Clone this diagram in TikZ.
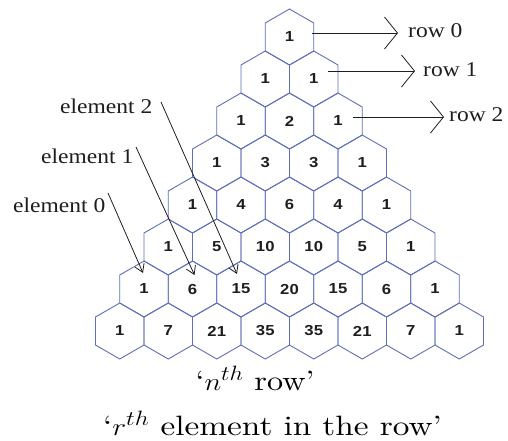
\documentclass[tikz,border=0pt]{standalone}
\usepackage{fontspec}
\usepackage{graphicx}
\usetikzlibrary{shapes.geometric,arrows.meta,calc}
\newfontfamily\labfont{Liberation Serif}
\newfontfamily\numfont{Liberation Sans}
\newfontfamily\cmten[Ligatures=TeX]{lmroman10-regular.otf}
\definecolor{hexblue}{RGB}{95,110,185}
\definecolor{inkcol}{RGB}{30,30,30}
\begin{document}
\begin{tikzpicture}[x=1pt,y=-1pt,
  hexcell/.style={regular polygon,regular polygon sides=6,regular polygon rotate=30,
    minimum size=56pt,inner sep=0pt,outer sep=0pt,draw=hexblue,line width=0.9pt,
    font=\numfont\bfseries\fontsize{14.5}{14.5}\selectfont,text=inkcol},
  lab/.style={font=\labfont\fontsize{21}{25}\selectfont,inner sep=0pt,anchor=base west,text=inkcol},
  rowarrow/.style={draw=inkcol,line width=0.8pt,-{Straight Barb[length=13pt,width=32pt,line width=0.8pt]}},
  elarrow/.style={draw=inkcol,line width=0.8pt,-{Straight Barb[length=8pt,width=10pt,line width=0.8pt]}},
  bottomtext/.style={font=\cmten\fontsize{28}{32}\selectfont,inner sep=0pt,anchor=base,text=black}]
\useasboundingbox (0,0) rectangle (508,440);
\foreach \r/\vals in {0/{1},1/{1,1},2/{1,2,1},3/{1,3,3,1},4/{1,4,6,4,1},5/{1,5,10,10,5,1},6/{1,6,15,20,15,6,1},7/{1,7,21,35,35,21,7,1}} {
  \foreach \v [count=\k from 0] in \vals {
    \node[hexcell] (h\r\k) at ({289.5+(\k-\r/2)*48.5},{37+42*\r}) {\scalebox{1.15}[1]{\v}};
  }
}
% row labels
\node[lab] (row0) at (408,37) {\scalebox{1.12}[1]{row 0}};
\node[lab] (row1) at (423,76) {\scalebox{1.12}[1]{row 1}};
\node[lab] (row2) at (449,121) {\scalebox{1.12}[1]{row 2}};
\coordinate (r0s) at ($(h00)+(22.5,-4)$);
\coordinate (r1s) at ($(h11)+(14,-8)$);
\coordinate (r2s) at ($(h22)+(15,-4)$);
\coordinate (r0e) at (398,33);
\coordinate (r1e) at (415,71);
\coordinate (r2e) at (444,117);
\draw[rowarrow] (r0s) -- (r0e);
\draw[rowarrow] (r1s) -- (r1e);
\draw[rowarrow] (r2s) -- (r2e);
% element labels
\node[lab] (el2) at (60,113) {\scalebox{1.12}[1]{element 2}};
\node[lab] (el1) at (41,163) {\scalebox{1.12}[1]{element 1}};
\node[lab] (el0) at (13,212) {\scalebox{1.12}[1]{element 0}};
\coordinate (e2s) at (161,102);
\coordinate (e1s) at (136,147);
\coordinate (e0s) at (108,193);
\coordinate (e0e) at ($(h60)+(-1,-16)$);
\coordinate (e1e) at ($(h61)+(2,-14)$);
\coordinate (e2e) at ($(h62)+(-4,-15)$);
\draw[elarrow] (e0s) -- (e0e);
\draw[elarrow] (e1s) -- (e1e);
\draw[elarrow] (e2s) -- (e2e);
% bottom text
\node[bottomtext] (t1) at (255,390) {\scalebox{1.15}[1]{`$n^{th}$ row'}};
\node[bottomtext] (t2) at (272.5,435) {\scalebox{1.19}[1]{`$r^{th}$ element in the row'}};
\end{tikzpicture}
\end{document}
